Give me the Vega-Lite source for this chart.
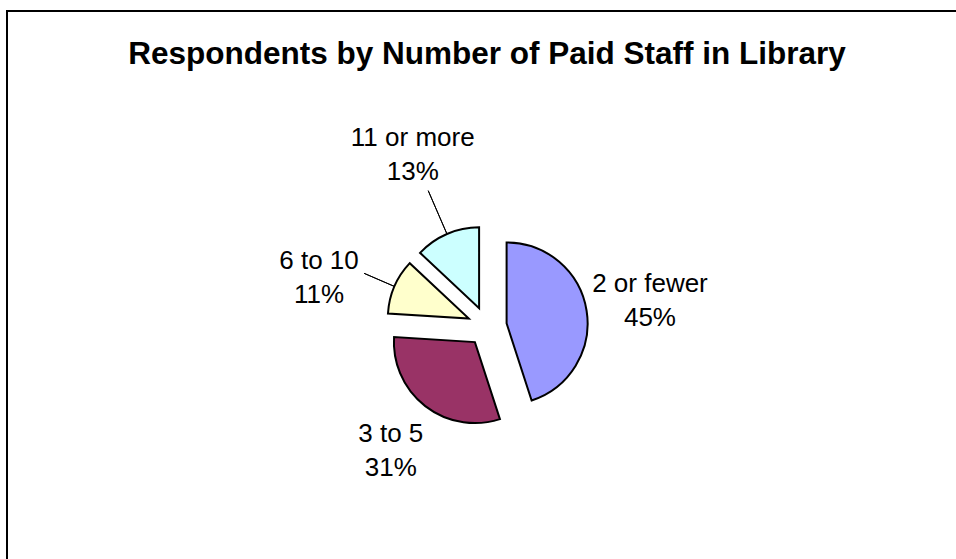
{
  "$schema": "https://vega.github.io/schema/vega-lite/v6.json",
  "width": 960,
  "height": 631,
  "autosize": {"type": "none"},
  "padding": {"left": 7, "top": 11, "right": 0, "bottom": 0},
  "background": "white",
  "view": {"stroke": "black", "strokeWidth": 2, "fill": "white"},
  "config": {"view": {"stroke": "black", "strokeWidth": 2}, "font": "Liberation Sans"},
  "title": {
    "text": "Respondents by Number of Paid Staff in Library",
    "font": "Liberation Sans",
    "fontSize": 31.5,
    "fontWeight": "bold",
    "color": "black",
    "anchor": "middle",
    "frame": "group",
    "baseline": "alphabetic",
    "offset": -84.5
  },
  "data": {
    "values": [
      {"cat": "2 or fewer", "min_staff": 0, "share": 0.45},
      {"cat": "3 to 5", "min_staff": 3, "share": 0.31},
      {"cat": "6 to 10", "min_staff": 6, "share": 0.11},
      {"cat": "11 or more", "min_staff": 11, "share": 0.13}
    ]
  },
  "transform": [
    {"stack": "share", "groupby": [], "sort": [{"field": "min_staff", "order": "ascending"}], "as": ["s0", "s1"]}
  ],
  "layer": [
    {
      "transform": [{"filter": {"field": "cat", "equal": "2 or fewer"}}],
      "mark": {"type": "arc", "outerRadius": 81, "xOffset": 19.6, "yOffset": -3.1, "stroke": "black", "strokeWidth": 2},
      "encoding": {
        "theta": {"field": "s0", "type": "quantitative", "scale": {"domain": [0, 1]}},
        "theta2": {"field": "s1"},
        "color": {"field": "cat", "type": "nominal", "scale": {"domain": ["2 or fewer", "3 to 5", "6 to 10", "11 or more"], "range": ["#9999FF", "#993366", "#FFFFCC", "#CCFFFF"]}, "legend": null}
      }
    },
    {
      "transform": [{"filter": {"field": "cat", "equal": "3 to 5"}}],
      "mark": {"type": "arc", "outerRadius": 81, "xOffset": -12.1, "yOffset": 15.6, "stroke": "black", "strokeWidth": 2},
      "encoding": {
        "theta": {"field": "s0", "type": "quantitative", "scale": {"domain": [0, 1]}},
        "theta2": {"field": "s1"},
        "color": {"field": "cat", "type": "nominal", "legend": null}
      }
    },
    {
      "transform": [{"filter": {"field": "cat", "equal": "6 to 10"}}],
      "mark": {"type": "arc", "outerRadius": 81, "xOffset": -18.2, "yOffset": -7.9, "stroke": "black", "strokeWidth": 2},
      "encoding": {
        "theta": {"field": "s0", "type": "quantitative", "scale": {"domain": [0, 1]}},
        "theta2": {"field": "s1"},
        "color": {"field": "cat", "type": "nominal", "legend": null}
      }
    },
    {
      "transform": [{"filter": {"field": "cat", "equal": "11 or more"}}],
      "mark": {"type": "arc", "outerRadius": 81, "xOffset": -7.9, "yOffset": -18.2, "stroke": "black", "strokeWidth": 2},
      "encoding": {
        "theta": {"field": "s0", "type": "quantitative", "scale": {"domain": [0, 1]}},
        "theta2": {"field": "s1"},
        "color": {"field": "cat", "type": "nominal", "legend": null}
      }
    },
    {
      "transform": [{"filter": {"field": "cat", "equal": "6 to 10"}}],
      "mark": {"type": "arc", "innerRadius": 101, "outerRadius": 134, "padAngle": 1, "filled": false, "stroke": "black", "strokeWidth": 1},
      "encoding": {
        "theta": {"field": "s0", "type": "quantitative", "scale": {"domain": [0, 1]}},
        "theta2": {"field": "s1"}
      }
    },
    {
      "transform": [{"filter": {"field": "cat", "equal": "11 or more"}}],
      "mark": {"type": "arc", "innerRadius": 101, "outerRadius": 148, "padAngle": 1, "filled": false, "stroke": "black", "strokeWidth": 1},
      "encoding": {
        "theta": {"field": "s0", "type": "quantitative", "scale": {"domain": [0, 1]}},
        "theta2": {"field": "s1"}
      }
    },
    {
      "mark": {"type": "text", "font": "Liberation Sans", "fontSize": 26, "fill": "black", "align": "center", "baseline": "middle", "dy": -17, "radius": 165},
      "encoding": {
        "theta": {"field": "share", "type": "quantitative", "stack": true, "scale": {"domain": [0, 1]}},
        "order": {"field": "min_staff", "type": "quantitative"},
        "text": {"condition": {"test": "datum.cat !== '2 or fewer'", "value": ""}, "field": "cat", "type": "nominal"}
      }
    },
    {
      "mark": {"type": "text", "font": "Liberation Sans", "fontSize": 26, "fill": "black", "align": "center", "baseline": "middle", "dy": 17, "radius": 165},
      "encoding": {
        "theta": {"field": "share", "type": "quantitative", "stack": true, "scale": {"domain": [0, 1]}},
        "order": {"field": "min_staff", "type": "quantitative"},
        "text": {"condition": {"test": "datum.cat !== '2 or fewer'", "value": ""}, "field": "share", "type": "quantitative", "format": ".0%"}
      }
    },
    {
      "mark": {"type": "text", "font": "Liberation Sans", "fontSize": 26, "fill": "black", "align": "center", "baseline": "middle", "dy": -17, "radius": 157},
      "encoding": {
        "theta": {"field": "share", "type": "quantitative", "stack": true, "scale": {"domain": [0, 1]}},
        "order": {"field": "min_staff", "type": "quantitative"},
        "text": {"condition": {"test": "datum.cat !== '3 to 5'", "value": ""}, "field": "cat", "type": "nominal"}
      }
    },
    {
      "mark": {"type": "text", "font": "Liberation Sans", "fontSize": 26, "fill": "black", "align": "center", "baseline": "middle", "dy": 17, "radius": 157},
      "encoding": {
        "theta": {"field": "share", "type": "quantitative", "stack": true, "scale": {"domain": [0, 1]}},
        "order": {"field": "min_staff", "type": "quantitative"},
        "text": {"condition": {"test": "datum.cat !== '3 to 5'", "value": ""}, "field": "share", "type": "quantitative", "format": ".0%"}
      }
    },
    {
      "mark": {"type": "text", "font": "Liberation Sans", "fontSize": 26, "fill": "black", "align": "center", "baseline": "middle", "dy": -17, "radius": 175, "thetaOffset": -0.125},
      "encoding": {
        "theta": {"field": "share", "type": "quantitative", "stack": true, "scale": {"domain": [0, 1]}},
        "order": {"field": "min_staff", "type": "quantitative"},
        "text": {"condition": {"test": "datum.cat !== '6 to 10'", "value": ""}, "field": "cat", "type": "nominal"}
      }
    },
    {
      "mark": {"type": "text", "font": "Liberation Sans", "fontSize": 26, "fill": "black", "align": "center", "baseline": "middle", "dy": 17, "radius": 175, "thetaOffset": -0.125},
      "encoding": {
        "theta": {"field": "share", "type": "quantitative", "stack": true, "scale": {"domain": [0, 1]}},
        "order": {"field": "min_staff", "type": "quantitative"},
        "text": {"condition": {"test": "datum.cat !== '6 to 10'", "value": ""}, "field": "share", "type": "quantitative", "format": ".0%"}
      }
    },
    {
      "mark": {"type": "text", "font": "Liberation Sans", "fontSize": 26, "fill": "black", "align": "center", "baseline": "middle", "dy": -17, "radius": 187},
      "encoding": {
        "theta": {"field": "share", "type": "quantitative", "stack": true, "scale": {"domain": [0, 1]}},
        "order": {"field": "min_staff", "type": "quantitative"},
        "text": {"condition": {"test": "datum.cat !== '11 or more'", "value": ""}, "field": "cat", "type": "nominal"}
      }
    },
    {
      "mark": {"type": "text", "font": "Liberation Sans", "fontSize": 26, "fill": "black", "align": "center", "baseline": "middle", "dy": 17, "radius": 187},
      "encoding": {
        "theta": {"field": "share", "type": "quantitative", "stack": true, "scale": {"domain": [0, 1]}},
        "order": {"field": "min_staff", "type": "quantitative"},
        "text": {"condition": {"test": "datum.cat !== '11 or more'", "value": ""}, "field": "share", "type": "quantitative", "format": ".0%"}
      }
    }
  ]
}
